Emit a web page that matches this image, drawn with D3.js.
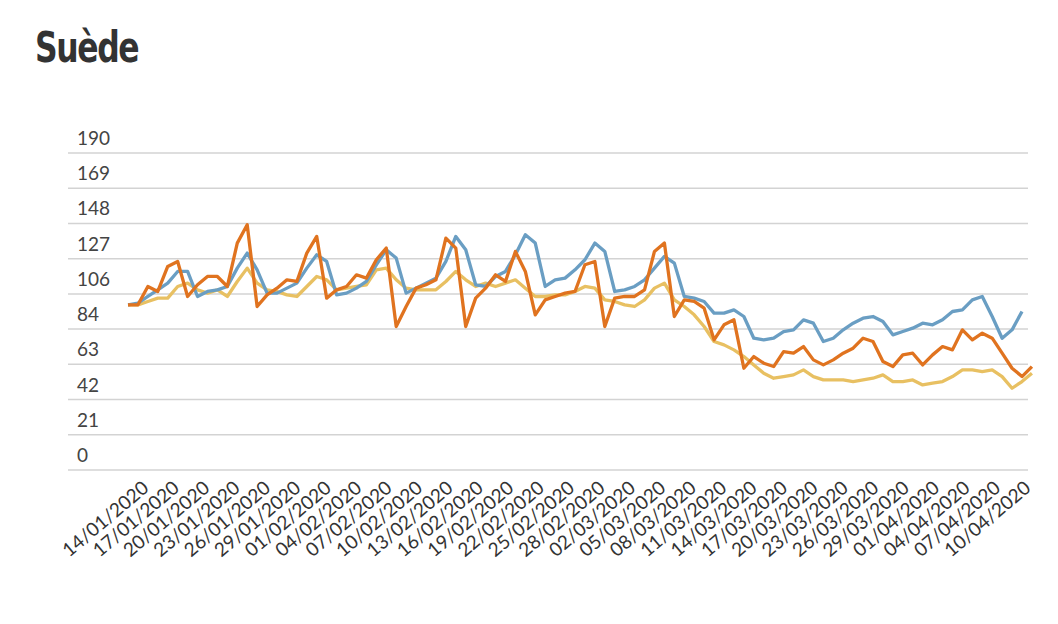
<!DOCTYPE html>
<html><head><meta charset="utf-8">
<script src="https://cdn.jsdelivr.net/npm/d3@7"></script>
<style>body{margin:0;background:#fff}</style></head>
<body><svg id="c" width="1058" height="624"></svg>
<script>
const yTickLabels = ["0","21","42","63","84","106","127","148","169","190"];
const dateLabels = ["14/01/2020","17/01/2020","20/01/2020","23/01/2020","26/01/2020","29/01/2020","01/02/2020","04/02/2020","07/02/2020","10/02/2020","13/02/2020","16/02/2020","19/02/2020","22/02/2020","25/02/2020","28/02/2020","02/03/2020","05/03/2020","08/03/2020","11/03/2020","14/03/2020","17/03/2020","20/03/2020","23/03/2020","26/03/2020","29/03/2020","01/04/2020","04/04/2020","07/04/2020","10/04/2020"];
const blue = [99,100,104,108,112,119,119,104,107,108,110,121,130,120,106,106,109,112,121,129,125,105,106,109,113,123,132,127,106,
109,112,115,125,140,132,111,110,116,119,129,141,136,110,114,115,120,126,136,131,107,108,110,114,121,128,124,104,103,
101,94,94,96,92,79,78,79,83,84,90,88,77,79,84,88,91,92,89,81,83,85,88,87,90,95,96,102,104,92,79,84,95];
const orange = [99,99,110,107,122,125,104,111,116,116,110,136,147,98,105,109,114,113,130,140,103,108,110,117,115,126,133,86,98,
109,111,114,139,133,86,103,109,117,113,131,119,93,102,104,106,107,123,125,86,103,104,104,108,131,136,92,102,101,
97,78,87,90,61,68,64,62,71,70,74,66,63,66,70,73,79,77,65,62,69,70,63,69,74,72,84,78,82,79,70,61,56,62];
const yellow = [99,99,101,103,103,110,112,108,106,108,104,113,121,112,108,107,105,104,110,116,114,108,109,110,111,120,121,114,109,
108,108,108,113,119,114,110,112,110,112,114,109,104,104,105,105,107,110,109,102,101,99,98,102,109,112,102,98,93,
86,77,75,72,68,63,58,55,56,57,60,56,54,54,54,53,54,55,57,53,53,54,51,52,53,56,60,60,59,60,56,49,53,58];

const svg = d3.select("#c");
svg.append("text").attr("x",35).attr("y",62).text("Suède")
  .attr("font-family","'DejaVu Sans Condensed','DejaVu Sans',sans-serif").attr("font-weight","bold")
  .attr("font-size",38).attr("fill","#333").attr("letter-spacing","-1.5")
  .attr("transform","translate(35,62) scale(0.92,1.1) translate(-35,-62)");

const y = d3.scaleLinear().domain([0,190]).range([470,153]);
const x = d3.scaleLinear().domain([0,blue.length-1]).range([128,1022]);
const xl = d3.scalePoint().domain(dateLabels).range([150,1032]);

yTickLabels.forEach((t,k)=>{
  const v = 190/9*k;
  svg.append("line").attr("x1",68).attr("x2",1028).attr("y1",y(v)).attr("y2",y(v))
    .attr("stroke","#d3d3d3").attr("stroke-width",1.5);
  svg.append("text").attr("x",77).attr("y",y(v)-8).text(t)
    .attr("font-family","Lato,sans-serif").attr("font-size",19).attr("fill","#444");
});

const line = d3.line().x((d,i)=>x(i)).y(d=>y(d));
[[yellow,"#e8c062"],[blue,"#6a9ec3"],[orange,"#e0731f"]].forEach(([s,c])=>{
  svg.append("path").datum(s).attr("d",line).attr("fill","none").attr("stroke",c)
    .attr("stroke-width",3.3).attr("stroke-linejoin","round");
});

dateLabels.forEach(d=>{
  svg.append("text").attr("transform",`translate(${xl(d)},490) rotate(-40)`)
    .attr("text-anchor","end").text(d)
    .attr("font-family","Lato,sans-serif").attr("font-size",19).attr("fill","#333");
});
</script></body></html>
